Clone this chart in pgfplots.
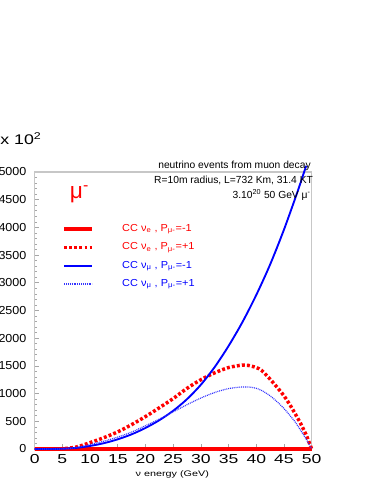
\documentclass[border=0pt]{standalone}
\usepackage{fontspec}
\setmainfont{Liberation Sans}
\usepackage{pgfplots}
\pgfplotsset{compat=1.18}

\pgfplotstableread{
x y
0 0
2.5 0
5 5
7.5 35
10 115
12.5 205
15 310
17.5 440
20 585
22.5 745
25 910
27.5 1095
30 1250
32.5 1375
35 1470
37.5 1515
38.5 1510
40 1470
41 1415
42.5 1260
44 1085
45 960
46 810
47 640
48 460
49 255
49.5 130
50 0
}\redplus

\pgfplotstableread{
x y
0 0
2.5 0
5 5
7.5 20
10 55
12.5 105
15 175
17.5 265
20 380
22.5 520
25 690
27.5 900
30 1160
32.5 1480
35 1860
37.5 2290
40 2780
42.5 3330
45 3960
47.5 4660
49 5110
}\bluminus

\pgfplotstableread{
x y
0 0
2.5 0
5 3
7.5 25
10 80
12.5 140
15 215
17.5 305
20 420
22.5 540
25 670
27.5 800
30 920
32.5 1020
35 1090
37.5 1120
39 1115
40 1095
41 1055
42.5 960
44 830
45 730
46 615
47 490
48 340
49 180
49.5 90
50 0
}\bluplus

\begin{document}
\begin{tikzpicture}
\begin{axis}[
  scale only axis, width=207.75pt, height=207.75pt,
  xmin=0, xmax=50, ymin=0, ymax=5000,
  clip=false,
  axis line style={draw=black!22, line width=1pt},
  xtick={0,5,...,50}, ytick={0,500,...,5000},
  minor ytick={100,200,...,4900},
  tick align=inside, xtick pos=bottom, ytick pos=left,
  major tick length=3.5pt, minor tick length=1.8pt,
  tick style={black!35, line width=0.5pt},
  scaled ticks=false,
  /pgf/number format/assume math mode=true,
  /pgf/number format/1000 sep={},
  yticklabel style={font=\fontsize{8.7}{9}\selectfont, anchor=east, inner sep=0pt, xshift=-6pt, xscale=1.08},
  xticklabel style={font=\fontsize{9.75}{10}\selectfont, anchor=base, inner sep=0pt, yshift=-10.5pt, xscale=1.35},
  xlabel={ν energy (GeV)},
  xlabel style={at={(axis cs:24.85,0)}, anchor=center, yshift=-18.75pt, font=\fontsize{6}{6}\selectfont, xscale=1.35},
  legend style={at={(axis cs:4.93,3475)}, anchor=west, draw=none, fill=none, inner sep=0pt,
    row sep=7pt, column sep=21pt,
    nodes={inner sep=0pt, font=\fontsize{7.6}{8}\selectfont, xscale=1.08}},
  legend cell align=left,
  legend image code/.code={\draw[#1] (0pt,0pt) -- (21pt,0pt);},
]
\addplot[red, line width=3pt] coordinates {(0,0) (50,0)};
\addlegendentry{\textcolor{red}{CC ν\textsubscript{e} , P\textsubscript{μ-}=-1}}
\addplot[red, line width=2.6pt, dash pattern=on 2.2pt off 1.6pt, smooth] table {\redplus};
\addlegendentry{\textcolor{red}{CC ν\textsubscript{e} , P\textsubscript{μ-}=+1}}
\addplot[blue, line width=1.4pt, smooth] table {\bluminus};
\addlegendentry{\textcolor{blue}{CC ν\textsubscript{μ} , P\textsubscript{μ-}=-1}}
\addplot[color=blue!80, line width=0.9pt, dash pattern=on 0.7pt off 0.7pt, smooth] table {\bluplus};
\addlegendentry{\textcolor{blue}{CC ν\textsubscript{μ} , P\textsubscript{μ-}=+1}}

\node[red, font=\fontsize{17}{17}\selectfont] at (axis cs:8.09,4603) {μ\textsuperscript{-}};
\node[anchor=east, inner sep=0pt, font=\fontsize{7.7}{8}\selectfont] at (axis cs:49.87,5114) {neutrino events from muon decay};
\node[anchor=east, inner sep=0pt, font=\fontsize{7.7}{8}\selectfont] at (axis cs:50.27,4842) {R=10m radius, L=732 Km, 31.4 KT};
\node[anchor=east, inner sep=0pt, font=\fontsize{7.7}{8}\selectfont] at (axis cs:49.87,4585) {3.10\textsuperscript{20} 50 GeV μ\textsuperscript{-}};
\node[anchor=west, inner sep=0pt, font=\fontsize{10.5}{11}\selectfont, xscale=1.27] at (axis cs:-6.26,5596) {x 10\textsuperscript{2}};
\end{axis}
\pgfresetboundingbox
\useasboundingbox (-26.0pt,-26.25pt) rectangle (254.5pt,336.75pt);
\end{tikzpicture}
\end{document}
